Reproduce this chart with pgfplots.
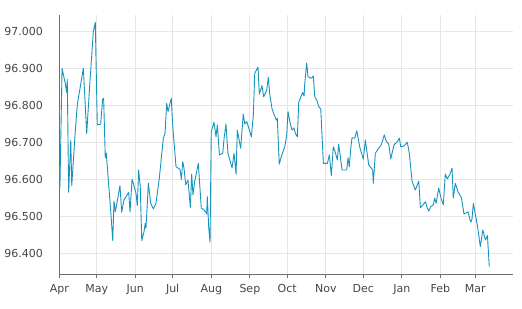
\documentclass[border=0pt]{standalone}
\usepackage{pgfplots}
\pgfplotsset{compat=1.18}
\usepackage{pgfplotstable}
\usepackage{fontspec}
\setmainfont{DejaVu Sans}
\definecolor{serie}{RGB}{22,148,190}
\definecolor{gridc}{RGB}{230,230,230}
\definecolor{axisc}{RGB}{110,110,110}
\definecolor{labc}{RGB}{70,70,70}
\pgfplotstableread{
d v
0.5 96.578
2.2 96.900
4.8 96.859
5.9 96.835
6.4 96.870
7.5 96.565
9.2 96.705
10.0 96.583
12.8 96.729
14.5 96.803
19.3 96.900
22.0 96.724
24.1 96.837
27.3 96.999
28.9 97.024
30.5 96.747
33.2 96.749
34.8 96.816
35.6 96.819
36.9 96.658
37.7 96.671
41.5 96.504
42.9 96.434
43.9 96.541
45.0 96.512
48.7 96.583
50.1 96.511
51.9 96.544
55.7 96.565
56.8 96.512
58.4 96.600
59.4 96.589
61.6 96.562
62.6 96.529
63.7 96.625
65.0 96.580
66.2 96.434
68.0 96.458
69.0 96.481
69.6 96.468
71.5 96.589
73.4 96.535
75.5 96.520
77.6 96.535
80.3 96.603
83.5 96.711
84.9 96.724
86.2 96.805
87.3 96.783
89.9 96.819
91.0 96.747
93.7 96.634
96.9 96.627
98.0 96.600
99.1 96.648
100.1 96.630
101.5 96.585
103.3 96.598
105.2 96.524
106.3 96.614
107.3 96.558
108.7 96.594
111.6 96.643
114.0 96.522
116.2 96.517
117.8 96.510
118.3 96.506
118.8 96.553
120.0 96.468
121.0 96.430
122.0 96.729
124.2 96.754
125.8 96.715
126.9 96.747
128.5 96.666
131.2 96.670
132.3 96.711
133.8 96.749
135.4 96.670
138.7 96.631
140.3 96.670
141.9 96.614
142.9 96.733
145.6 96.684
147.7 96.776
148.9 96.749
150.5 96.756
154.2 96.715
155.8 96.774
156.9 96.886
159.5 96.904
160.6 96.830
162.7 96.853
164.1 96.823
166.5 96.841
167.8 96.875
168.9 96.832
170.8 96.790
172.9 96.771
174.2 96.760
175.0 96.765
176.6 96.641
178.2 96.661
181.0 96.688
182.6 96.720
183.6 96.783
185.2 96.754
186.8 96.733
188.4 96.739
189.5 96.724
191.1 96.715
192.2 96.808
195.4 96.835
196.5 96.825
197.0 96.857
198.6 96.914
199.7 96.877
202.3 96.873
203.9 96.879
205.1 96.823
206.7 96.814
208.3 96.796
209.9 96.790
212.0 96.643
215.2 96.643
216.8 96.666
218.4 96.610
220.0 96.688
221.4 96.675
223.2 96.652
224.3 96.695
227.0 96.625
230.7 96.625
231.8 96.658
232.8 96.634
234.0 96.684
235.0 96.712
237.2 96.711
238.8 96.731
241.4 96.684
244.1 96.654
245.7 96.706
248.4 96.639
251.6 96.625
252.1 96.589
253.7 96.670
255.3 96.679
258.5 96.693
260.9 96.720
262.3 96.704
264.5 96.695
266.1 96.655
268.7 96.693
271.4 96.702
273.0 96.711
274.1 96.688
276.8 96.690
279.4 96.700
281.0 96.670
283.2 96.595
285.8 96.571
288.6 96.595
289.9 96.523
293.9 96.539
295.5 96.522
296.6 96.514
298.2 96.526
300.3 96.531
301.4 96.549
302.5 96.535
304.6 96.576
306.7 96.546
308.3 96.531
309.9 96.614
311.5 96.601
313.7 96.614
315.3 96.630
316.3 96.549
317.9 96.589
320.1 96.566
322.8 96.550
324.9 96.506
328.1 96.512
330.3 96.484
331.3 96.492
332.4 96.535
335.6 96.476
338.0 96.418
340.0 96.463
342.1 96.436
343.7 96.448
345.2 96.364
}\series
\begin{document}
\begin{tikzpicture}
\useasboundingbox (0,0) rectangle (522bp,309bp);
\begin{axis}[
  at={(59.3bp,35bp)}, anchor=south west,
  scale only axis, width=453.4bp, height=259bp,
  xmin=0, xmax=364, ymin=96.344, ymax=97.044,
  axis x line*=bottom, axis y line*=left,
  axis line style={draw=axisc, line width=0.8pt},
  xtick={0,30,61,91,122,153,183,214,244,275,306,334},
  xticklabels={Apr,May,Jun,Jul,Aug,Sep,Oct,Nov,Dec,Jan,Feb,Mar},
  ytick={96.4,96.5,96.6,96.7,96.8,96.9,97.0},
  yticklabel={\pgfmathprintnumber[fixed,fixed zerofill,precision=3,1000 sep={}]{\tick}},
  grid=major, grid style={draw=gridc, line width=0.8pt},
  tick align=outside,
  major tick length=4bp,
  x tick style={draw=axisc, line width=0.8pt},
  y tick style={draw=none},
  tick label style={font=\fontsize{11bp}{13bp}\selectfont, text=labc},
  /pgf/number format/assume math mode=true,
  yticklabel style={xshift=-9bp},
  xticklabel style={yshift=-3bp},
  clip=false,
]
\addplot[serie, line width=0.9pt, line join=round] table[x=d,y=v] {\series};
\end{axis}
\end{tikzpicture}
\end{document}
